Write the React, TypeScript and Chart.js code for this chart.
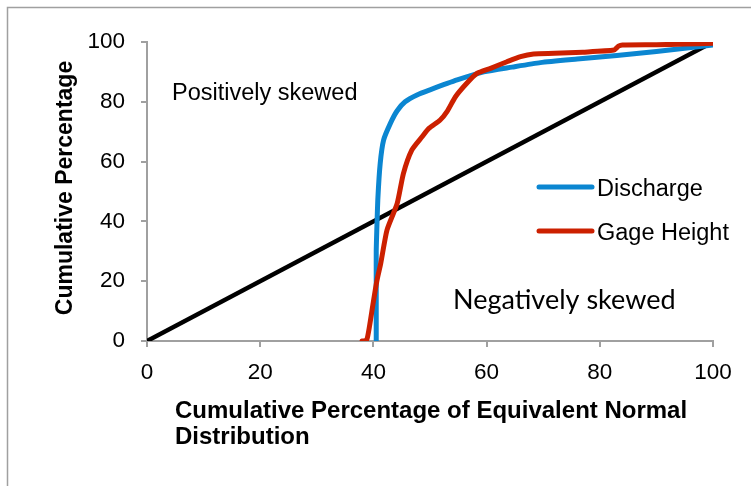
import React, { useEffect, useRef } from "react";
import { Chart, registerables } from "chart.js";

Chart.register(...registerables);

// ---- data ----
const diagonalX = [0, 100];
const diagonalY = [0, 100];

const dischargeX = [40.5, 40.5, 40.5, 40.6, 40.8, 41.2, 41.8, 43.0, 44.2, 45.6, 47.7, 50.0, 54.8, 59.5, 64.5, 69.5, 76, 83, 90, 100];
const dischargeY = [0, 20, 30, 37, 48, 59.4, 67.2, 72.8, 77, 80, 82.3, 84, 87.3, 90, 91.6, 93.1, 94.3, 95.5, 96.8, 99];

const gageX = [38.0, 38.8, 39.3, 39.9, 40.6, 41.3, 42.4, 44.2, 45.3, 46.8, 48.6, 49.8, 51.8, 53.0, 54.5, 56.5, 58.3, 60.7, 63.6, 66.0, 68.3, 72, 77, 82.5, 83.3, 84, 90, 95, 100];
const gageY = [0, 0.3, 4.8, 12, 20, 26, 37.1, 46, 56, 63.9, 68.3, 71.1, 73.9, 76.7, 81.7, 86.2, 89.5, 91.2, 93.4, 95.1, 96.0, 96.2, 96.6, 97.3, 98.6, 99.0, 99.1, 99.3, 99.6];

const xTicks = [0, 20, 40, 60, 80, 100];
const yTicks = [0, 20, 40, 60, 80, 100];

const seriesNames = ["Discharge", "Gage Height"];
const seriesColors = ["#0b86d1", "#cc2000"];
const yTitle = "Cumulative Percentage";
const xTitleLines = ["Cumulative Percentage of Equivalent Normal", "Distribution"];
const noteTop = "Positively skewed";
const noteBottom = "Negatively skewed";

const toPts = (xs: number[], ys: number[]) => xs.map((x, i) => ({ x, y: ys[i] }));

const FONT = "'Liberation Sans', Arial, sans-serif";

const overlay = {
  id: "overlay",
  afterDraw(chart: any) {
    const ctx = chart.ctx as CanvasRenderingContext2D;
    ctx.save();
    // frame
    ctx.strokeStyle = "#a0a0a0";
    ctx.lineWidth = 1.5;
    ctx.beginPath();
    ctx.moveTo(7.5, 500);
    ctx.lineTo(7.5, 7.5);
    ctx.lineTo(800, 7.5);
    ctx.stroke();

    ctx.fillStyle = "#000";
    ctx.textBaseline = "alphabetic";
    ctx.textAlign = "left";
    ctx.font = `23.5px ${FONT}`;
    ctx.fillText(noteTop, 172, 100);
    ctx.font = `27px Lato, 'Open Sans', sans-serif`;
    ctx.fillText(noteBottom, 453, 309);

    // legend
    const legY = [187, 231];
    seriesNames.forEach((name, i) => {
      ctx.strokeStyle = seriesColors[i];
      ctx.lineWidth = 5;
      ctx.lineCap = "round";
      ctx.beginPath();
      ctx.moveTo(539, legY[i]);
      ctx.lineTo(592, legY[i]);
      ctx.stroke();
      ctx.fillStyle = "#000";
      ctx.font = `23.5px ${FONT}`;
      ctx.fillText(name, 597, legY[i] + 9);
    });

    // axis titles
    ctx.font = `bold 24px ${FONT}`;
    ctx.fillText(xTitleLines[0], 175, 417.5);
    ctx.fillText(xTitleLines[1], 175, 444);

    ctx.save();
    ctx.font = `bold 23px ${FONT}`;
    ctx.translate(72, 188);
    ctx.rotate(-Math.PI / 2);
    ctx.textAlign = "center";
    ctx.fillText(yTitle, 0, 0);
    ctx.restore();

    ctx.restore();
  },
};

export default function App() {
  const ref = useRef<HTMLCanvasElement>(null);
  useEffect(() => {
    document.body.style.margin = "0";
    const canvas = ref.current!;
    const chart = new Chart(canvas, {
      type: "scatter",
      data: {
        datasets: [
          {
            label: "Normal",
            data: toPts(diagonalX, diagonalY),
            showLine: true,
            borderColor: "#000",
            borderWidth: 4.5,
            pointRadius: 0,
            order: 3,
          },
          {
            label: seriesNames[0],
            data: toPts(dischargeX, dischargeY),
            showLine: true,
            borderColor: seriesColors[0],
            borderWidth: 5,
            pointRadius: 0,
            borderJoinStyle: "round",
            borderCapStyle: "round",
            tension: 0.2,
            order: 2,
          },
          {
            label: seriesNames[1],
            data: toPts(gageX, gageY),
            showLine: true,
            borderColor: seriesColors[1],
            borderWidth: 5,
            pointRadius: 0,
            borderJoinStyle: "round",
            borderCapStyle: "round",
            tension: 0.2,
            order: 1,
          },
        ],
      },
      options: {
        animation: false,
        responsive: false,
        devicePixelRatio: 1,
        events: [],
        layout: { padding: { left: 0, top: 42, right: 38, bottom: 0 } },
        plugins: { legend: { display: false }, tooltip: { enabled: false } },
        scales: {
          x: {
            type: "linear",
            min: 0,
            max: 100,
            afterFit: (s: any) => { s.height = 486 - 341; },
            afterBuildTicks: (s: any) => { s.ticks = xTicks.map((v) => ({ value: v })); },
            grid: { drawOnChartArea: false, drawTicks: true, tickLength: 6, color: "#a0a0a0", lineWidth: 2 },
            border: { color: "#a0a0a0", width: 2 },
            ticks: { color: "#000", font: { family: FONT, size: 22.5 }, padding: 12, maxRotation: 0 },
          },
          y: {
            type: "linear",
            min: 0,
            max: 100,
            afterFit: (s: any) => { s.width = 147; },
            afterBuildTicks: (s: any) => { s.ticks = yTicks.map((v) => ({ value: v })); },
            grid: { drawOnChartArea: false, drawTicks: true, tickLength: 6, color: "#a0a0a0", lineWidth: 2 },
            border: { color: "#a0a0a0", width: 2 },
            ticks: { color: "#000", font: { family: FONT, size: 22.5 }, padding: 16 },
          },
        },
      },
      plugins: [overlay],
    } as any);
    return () => chart.destroy();
  }, []);
  return <canvas ref={ref} width={751} height={486} style={{ display: "block" }} />;
}
